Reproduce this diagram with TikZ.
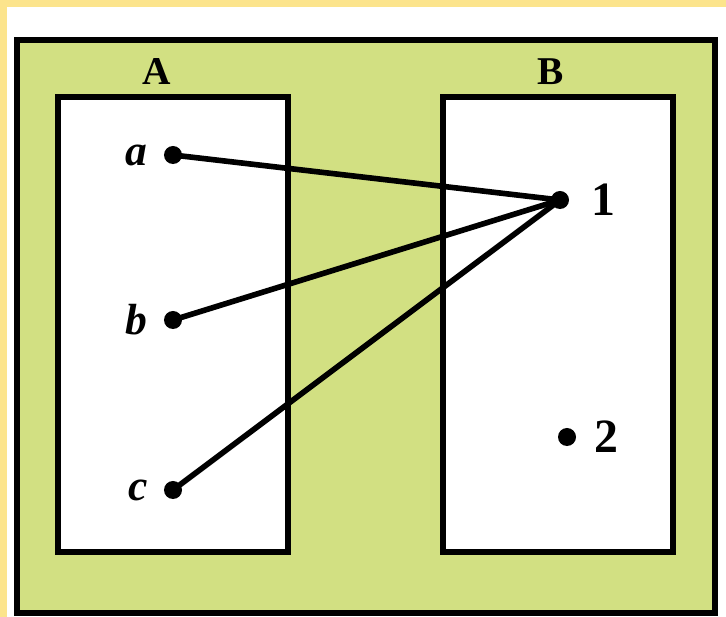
\documentclass[tikz,border=0pt]{standalone}
\usepackage{fontspec}
\setmainfont{Liberation Serif}
\usetikzlibrary{positioning}
\definecolor{setgreen}{RGB}{210,224,130}
\definecolor{frameyellow}{RGB}{252,228,140}

\begin{document}
\begin{tikzpicture}[x=0.025cm, y=-0.025cm]
    % Define styles
    \tikzstyle{setbox} = [rectangle, draw, line width=4pt, fill=white, minimum width=5.75cm, minimum height=11.375cm]
    \tikzstyle{elem} = [circle, fill=black, inner sep=0pt, minimum size=0.45cm]
    \tikzstyle{setname} = [font=\fontsize{28}{32}\selectfont\bfseries]
    \tikzstyle{letter} = [inner sep=0pt, font=\fontsize{31}{34}\selectfont\bfseries\itshape]
    \tikzstyle{number} = [inner sep=0pt, font=\fontsize{34}{38}\selectfont\bfseries]
    \tikzstyle{map} = [line width=4pt, line cap=round]

    % Background and frame
    \useasboundingbox (0,0) rectangle (726,617);
    \fill[white] (0,0) rectangle (726,617);
    \fill[frameyellow] (0,0) rectangle (726,7);
    \fill[frameyellow] (0,0) rectangle (7,617);
    \node [rectangle, draw, line width=4pt, fill=setgreen, minimum width=17.45cm, minimum height=14.325cm] (outer) at (366,326.5) {};

    % Sets
    \node [setbox] (setA) at (173,324.5) {};
    \node [setbox] (setB) at (558,324.5) {};
    \node [setname] (nameA) at (157,72) {A};
    \node [setname] (nameB) at (551,72) {B};

    % Elements
    \node [elem] (a) at (173,155) {};
    \node [elem] (b) at (173,320) {};
    \node [elem] (c) at (173,490) {};
    \node [elem] (one) at (560,200) {};
    \node [elem] (two) at (567,437) {};
    \node [letter, left=0.4cm of a] (la) {a};
    \node [letter, left=0.4cm of b] (lb) {b};
    \node [letter, left=0.4cm of c] (lc) {c};
    \node [number, right=0.55cm of one] (lone) {1};
    \node [number, right=0.45cm of two] (ltwo) {2};

    % Mapping
    \draw [map] (a.center) -- (one.center);
    \draw [map] (b.center) -- (one.center);
    \draw [map] (c.center) -- (one.center);
\end{tikzpicture}
\end{document}
